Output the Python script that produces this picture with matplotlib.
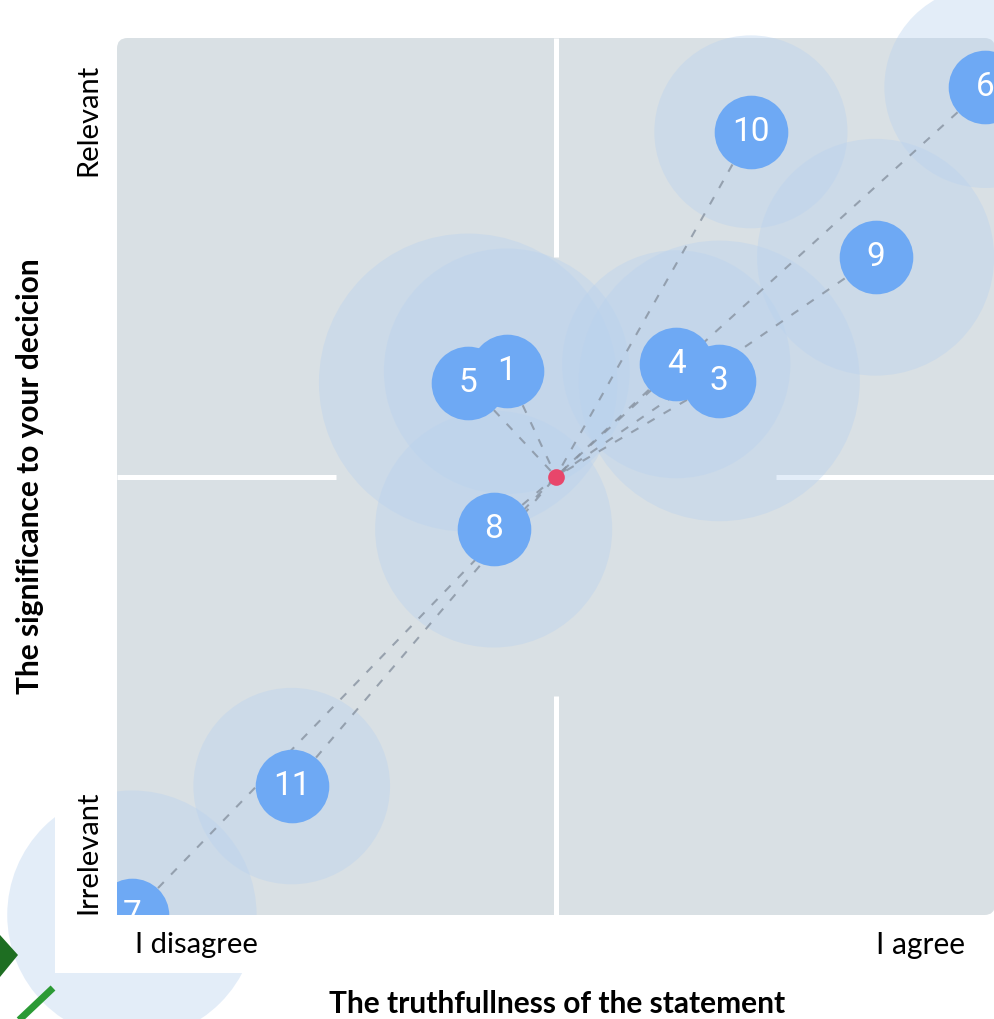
import matplotlib
matplotlib.use("Agg")
import matplotlib.pyplot as plt
from matplotlib.patches import Circle, FancyBboxPatch, Rectangle, Polygon
from matplotlib.lines import Line2D

# ---- data ----
labels = ['5', '1', '8', '4', '3', '9', '10', '6', '11', '7']
truth = [40.0, 44.4, 42.9, 63.7, 68.6, 86.4, 72.2, 98.9, 19.9, 1.7]          # x: I disagree .. I agree
significance = [60.7, 62.0, 44.0, 62.8, 60.9, 75.0, 89.3, 94.4, 14.7, 0.0]   # y: Irrelevant .. Relevant
spread = [17.0, 14.0, 13.5, 13.0, 16.0, 13.5, 11.0, 11.5, 11.2, 14.2]        # halo radius
center = (50.0, 50.0)

x_title = "The truthfullness of the statement"
y_title = "The significance to your decicion"
x_low, x_high = "I disagree", "I agree"
y_low, y_high = "Irrelevant", "Relevant"

W, H = 995, 1019
fig = plt.figure(figsize=(W / 100, H / 100), dpi=100)
fig.patch.set_facecolor('white')

def fx(px):
    return px / W

def fy(py):
    return 1 - py / H

ax = fig.add_axes([fx(117), fy(915), 878 / W, 877 / H])
ax.set_xlim(0, 100)
ax.set_ylim(0, 100)
ax.set_aspect('auto')
ax.axis('off')

panel_col = '#d9e0e4'
halo_col = '#b9d2ef'
marker_col = '#6ea9f4'

# panel
ax.add_patch(FancyBboxPatch((0, 0), 100, 100, boxstyle="round,pad=0,rounding_size=1.2",
                            fc=panel_col, ec='none', zorder=0))
# white cross arms
arm_kw = dict(color='white', lw=3.6, solid_capstyle='butt', zorder=0.5)
ax.plot([50, 50], [0, 25], **arm_kw)
ax.plot([50, 50], [75, 100], **arm_kw)
ax.plot([0, 25], [50, 50], **arm_kw)
ax.plot([75, 100], [50, 50], **arm_kw)

# halos
for x, y, r in zip(truth, significance, spread):
    ax.add_patch(Circle((x, y), r, fc=halo_col, ec='none', alpha=0.4, zorder=1, clip_on=False))

# dashed connectors to the centre
for x, y in zip(truth, significance):
    ax.plot([x, center[0]], [y, center[1]], color='#8792a0', lw=1.5, ls=(0, (4, 5)),
            alpha=0.8, zorder=2)

# markers and numbers
for i, (lab, x, y) in enumerate(zip(labels, truth, significance)):
    ax.plot([x], [y], 'o', ms=53, color=marker_col, mec='none', zorder=3 + i * 0.01)
    ax.text(x, y, lab, color='white', fontsize=24, family='Roboto', ha='center',
            va='center', zorder=4)

# centre point
ax.plot([center[0]], [center[1]], 'o', ms=12, color='#e8466b', mec='none', zorder=5)

# white label box covering overflow
fig.add_artist(Rectangle((fx(55), fy(973)), fx(995) - fx(55), fy(915) - fy(973),
                         transform=fig.transFigure, fc='white', ec='none', zorder=2))
fig.add_artist(Rectangle((fx(55), fy(973)), fx(117) - fx(55), fy(807) - fy(973),
                         transform=fig.transFigure, fc='white', ec='none', zorder=2))
fig.add_artist(Rectangle((fx(0), fy(807)), fx(117), fy(38) - fy(807),
                         transform=fig.transFigure, fc='white', ec='none', zorder=2))

# logo fragment (bottom-left)
fig.add_artist(Polygon([(fx(-20), fy(955)), (fx(0), fy(935)), (fx(18), fy(955)), (fx(0), fy(977))],
                       closed=True, transform=fig.transFigure, fc='#1e6e22', ec='none', zorder=2.5))
fig.add_artist(Line2D([fx(17), fx(53)], [fy(1022), fy(988)], transform=fig.transFigure,
                      color='#2b9a35', lw=5, solid_capstyle='butt', zorder=2.5))

font = 'Lato'
fig.text(fx(30), fy(476), y_title, rotation=90, ha='center', va='center', fontsize=21.5,
         fontweight='bold', family=font, zorder=3)
fig.text(fx(88), fy(120), y_high, rotation=90, ha='center', va='center', fontsize=21,
         family=font, zorder=3)
fig.text(fx(88), fy(852), y_low, rotation=90, ha='center', va='center', fontsize=21,
         family=font, zorder=3)
fig.text(fx(196), fy(945), x_low, ha='center', va='center', fontsize=21, family=font, zorder=3)
fig.text(fx(921), fy(945), x_high, ha='center', va='center', fontsize=21.5, family=font, zorder=3)
fig.text(fx(557), fy(1004), x_title, ha='center', va='center', fontsize=21.5,
         fontweight='bold', family=font, zorder=3)

fig.savefig('out.png', dpi=100, facecolor='white')
